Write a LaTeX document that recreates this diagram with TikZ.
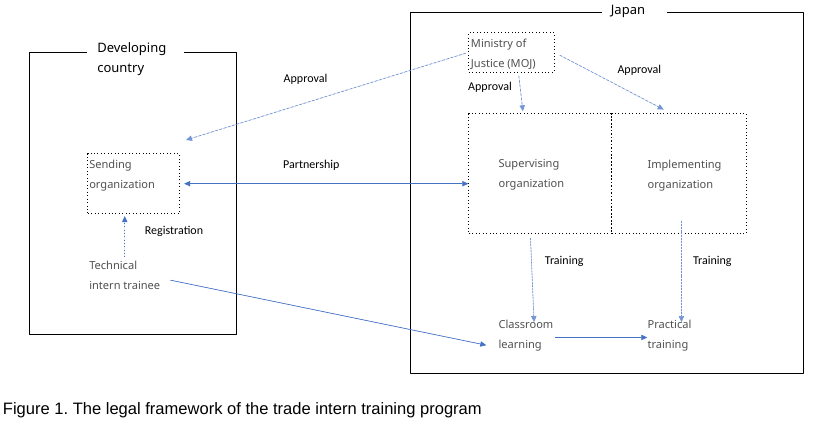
\documentclass[tikz,border=0pt]{standalone}
\usepackage{fontspec}
\setmainfont{Liberation Sans}
\newfontfamily\orgfont{Noto Sans}
\newfontfamily\lblfont{Carlito}
\usetikzlibrary{positioning,arrows.meta}
\definecolor{arrowblue}{HTML}{4472C4}
\definecolor{orggray}{HTML}{505050}
\tikzset{
  org/.style={font=\orgfont\fontsize{8.3}{15}\selectfont,text=orggray,align=left,inner sep=0pt},
  region/.style={font=\orgfont\fontsize{9.75}{15}\selectfont,align=left,inner sep=0pt},
  lbl/.style={font=\lblfont\fontsize{9}{11}\selectfont,inner sep=0pt},
  dotbox/.style={draw,dotted,line width=0.6pt,inner sep=0pt},
  flow/.style={draw=arrowblue,fill=arrowblue,->,line width=0.5pt},
  approve/.style={flow,draw=arrowblue!75,dash pattern=on 2pt off 1.3pt},
  train/.style={flow,draw=arrowblue!75,dash pattern=on 1.5pt off 0.7pt}
}
\frenchspacing
\begin{document}
\begin{tikzpicture}[x=0.75pt,y=-0.75pt,line join=round,>={Triangle[length=4.5pt,width=4pt]}]
\useasboundingbox (0,0) rectangle (817,427);
% the two countries
\draw[line width=0.75pt] (87,52.3) -| (29.3,334.3) -| (236.7,52.3) -- (184,52.3);
\node[region,anchor=west] (dev) at (97,59.5) {Developing\\country};
\draw[line width=0.75pt] (601.7,12.7) -| (410.3,374) -| (803.3,12.7) -- (666.7,12.7);
\node[region] (jp) at (628,11.5) {Japan};
% boxes
\node[dotbox,anchor=north west,minimum width=68.55pt,minimum height=45pt] (send) at (87.3,153.3) {};
\node[dotbox,anchor=north west,minimum width=64pt,minimum height=29.5pt] (moj) at (468.3,32.3) {};
\node[dotbox,anchor=north west,minimum width=107.25pt,minimum height=90pt] (sup) at (468.3,113.3) {};
\node[dotbox,anchor=north west,minimum width=100.8pt,minimum height=90pt] (imp) at (611.3,113.3) {};
% texts
\node[org,below right=4.8pt and 1.3pt of send.north west] (sendtxt) {Sending\\organization};
\node[org,below right=4.5pt and 1.8pt of moj.north west] (mojtxt) {Ministry of\\Justice (MOJ)};
\node[org,right=22.5pt of sup.west,yshift=-1.1pt] (suptxt) {Supervising\\organization};
\node[org,right=27pt of imp.west,yshift=-1.1pt] (imptxt) {Implementing\\organization};
\node[org,anchor=west] (trainee) at (89,275.5) {Technical\\intern trainee};
\node[org,anchor=west] (class) at (498.3,335.2) {Classroom\\learning};
\node[org,anchor=west] (pract) at (647.3,335.2) {Practical\\training};
% labels
\node[lbl] (appL) at (305.5,79) {Approval};
\node[lbl] (appM) at (490,87.3) {Approval};
\node[lbl] (appR) at (639.3,70) {Approval};
\node[lbl] (part) at (311.3,165) {Partnership};
\node[lbl] (reg) at (174,231) {Registration};
\node[lbl] (trL) at (564.2,261) {Training};
\node[lbl] (trR) at (712.3,261) {Training};
% arrows
\coordinate (sendtip) at (186,140);
\draw[approve,shorten <=2pt] (moj.west) -- (sendtip);
\draw[approve,shorten <=2.5pt,shorten >=1.5pt] ([xshift=5.3pt]moj.south) -- ([xshift=-12.8pt]sup.north);
\draw[approve,shorten <=4.5pt,shorten >=6pt] (moj.east) -- ([xshift=-6pt]imp.north);
\draw[flow,<->,shorten <=3.5pt] (send.east) -- (send.east -| sup.west);
\draw[flow,dotted,shorten <=3pt,shorten >=1.5pt] (trainee.north) -- (trainee.north |- send.south);
\draw[flow] ([shift={(7.5pt,-3.5pt)}]trainee.east) -- ([shift={(-9pt,-7.5pt)}]class.west);
\draw[flow] ([shift={(1pt,-1.7pt)}]class.east) -- ([yshift=-1.7pt]pract.west);
\draw[train,shorten <=3pt,shorten >=-2pt] ([xshift=-7.4pt]sup.south) -- ([xshift=6pt]class.north);
\draw[train,shorten >=-2pt] ([shift={(1.9pt,10pt)}]imp.south) -- ([xshift=1.9pt]imp.south |- pract.north);
% caption
\node[anchor=west,inner sep=0pt,font=\fontsize{12.4}{14}\selectfont] (cap) at (2.7,410) {Figure 1. The legal framework of the trade intern training program};
\end{tikzpicture}
\end{document}
